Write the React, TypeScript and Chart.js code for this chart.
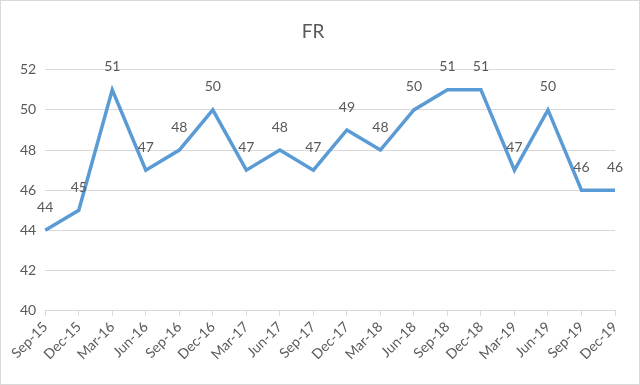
import React, { useEffect, useRef } from "react";
import { Chart, registerables } from "chart.js";

Chart.register(...registerables);

const categories = ["Sep-15","Dec-15","Mar-16","Jun-16","Sep-16","Dec-16","Mar-17","Jun-17","Sep-17","Dec-17","Mar-18","Jun-18","Sep-18","Dec-18","Mar-19","Jun-19","Sep-19","Dec-19"];
const frValues = [44,45,51,47,48,50,47,48,47,49,48,50,51,51,47,50,46,46];
const yMin = 40;
const yMax = 52;
const yStep = 2;

const FONT = "Lato, 'Open Sans', sans-serif";
const TEXT = "#595959";

const labelPlugin = {
  id: "pointLabels",
  afterDatasetsDraw(chart: any) {
    const ctx = chart.ctx;
    const meta = chart.getDatasetMeta(0);
    ctx.save();
    ctx.font = `14px ${FONT}`;
    ctx.fillStyle = TEXT;
    ctx.textAlign = "center";
    ctx.textBaseline = "middle";
    meta.data.forEach((pt: any, i: number) => {
      ctx.fillText(String(frValues[i]), pt.x, pt.y - 23);
    });
    ctx.restore();
  },
};

export default function App() {
  const ref = useRef<HTMLCanvasElement>(null);
  useEffect(() => {
    const chart = new Chart(ref.current!, {
      type: "line",
      data: {
        labels: categories,
        datasets: [
          {
            label: "FR",
            data: frValues,
            borderColor: "#5B9BD5",
            borderWidth: 3.5,
            pointRadius: 0,
            tension: 0,
            fill: false,
          },
        ],
      },
      options: {
        animation: false,
        responsive: false,
        layout: { padding: { top: 8, right: 24, bottom: 18, left: 10 } },
        plugins: {
          legend: { display: false },
          tooltip: { enabled: false },
          title: {
            display: true,
            text: "FR",
            color: TEXT,
            font: { family: FONT, size: 19, weight: "normal" },
            padding: { top: 11, bottom: 27 },
          },
        },
        scales: {
          x: {
            offset: false,
            grid: { display: true, drawOnChartArea: false, drawTicks: true, tickLength: 5, color: "#d9d9d9" },
            border: { display: true, color: "#d9d9d9" },
            ticks: {
              color: TEXT,
              font: { family: FONT, size: 14 },
              maxRotation: 45,
              minRotation: 45,
              autoSkip: false,
              padding: 3,
            },
          },
          y: {
            min: yMin,
            max: yMax,
            grid: { color: "#d9d9d9", drawTicks: false, lineWidth: 1 },
            border: { display: false },
            ticks: {
              stepSize: yStep,
              color: TEXT,
              font: { family: FONT, size: 14 },
              padding: 9,
            },
          },
        },
      },
      plugins: [labelPlugin],
    });
    return () => chart.destroy();
  }, []);
  return (
    <div style={{ position: "fixed", left: 0, top: 0, width: 640, height: 385, background: "#fff", boxSizing: "border-box", border: "1px solid #d9d9d9" }}>
      <canvas ref={ref} width={638} height={383} />
    </div>
  );
}
